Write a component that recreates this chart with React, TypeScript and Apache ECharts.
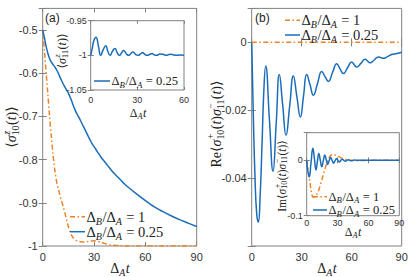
import React, { useEffect, useRef } from 'react';
import * as echarts from 'echarts';

const BLUE = '#1A6DB9';
const ORANGE = '#EE8226';
const FRAME = '#808080';
const TICK_TEXT = '#333333';
const SANS = '"Liberation Sans", Arial, sans-serif';
const SERIF = '"Liberation Serif", "DejaVu Serif", serif';
const DASHDOT = [5, 2.5, 1.5, 2.5];

// ---------- Panel (a) main: <sigma^z_10(t)> ----------
const tAOrange = [0, 1, 2, 3, 4, 5, 6, 7, 8, 9, 10, 11, 12, 13, 14, 15, 16, 17, 18, 19, 20, 22, 24, 26, 28, 30, 32, 34, 36, 38, 40, 45, 50, 60, 70, 80, 90];
const vAOrange = [-0.5, -0.548, -0.598, -0.648, -0.698, -0.745, -0.787, -0.822, -0.848, -0.866, -0.881, -0.895, -0.909, -0.924, -0.94, -0.955, -0.967, -0.976, -0.982, -0.986, -0.988, -0.99, -0.991, -0.99, -0.989, -0.988, -0.989, -0.991, -0.994, -0.996, -0.998, -0.999, -1, -1, -1, -1, -1];
const tABlue = [0, 1, 2, 3, 4, 5, 6, 7, 8, 9, 10, 11, 12, 13, 14, 15, 16, 17, 18, 19, 20, 21, 22, 23, 24, 25, 26, 27, 28, 29, 30, 31, 32, 34, 36, 38, 40, 42, 44, 46, 48, 50, 55, 60, 65, 70, 75, 80, 85, 90];
const vABlue = [-0.5, -0.518, -0.538, -0.554, -0.566, -0.574, -0.58, -0.585, -0.591, -0.599, -0.608, -0.617, -0.625, -0.632, -0.639, -0.646, -0.655, -0.665, -0.676, -0.686, -0.694, -0.701, -0.709, -0.717, -0.725, -0.733, -0.741, -0.749, -0.757, -0.764, -0.77, -0.776, -0.782, -0.794, -0.804, -0.814, -0.824, -0.833, -0.841, -0.849, -0.857, -0.864, -0.88, -0.895, -0.909, -0.92, -0.93, -0.939, -0.947, -0.955];

// ---------- Panel (a) inset: <sigma^z_11(t)> ----------
const tInsetA = [0, 1, 2, 3.4, 5, 6.4, 8, 9.7, 11, 12.4, 14, 15.6, 17, 18.5, 20, 21.2, 23, 24.5, 26, 27.2, 29, 30.5, 32, 33.3, 35, 36.5, 38, 39.5, 41, 42.5, 44.5, 46.5, 48.5, 51, 53, 55, 57.5, 60];
const vInsetA = [-1, -0.99, -0.979, -0.974, -0.987, -1, -0.992, -0.986, -0.994, -1, -0.994, -0.99, -0.996, -1, -0.996, -0.993, -0.998, -1, -0.997, -0.995, -0.999, -1, -0.998, -0.996, -0.999, -1, -0.9985, -0.9975, -0.9995, -1, -0.998, -0.9985, -1, -0.9985, -0.999, -1, -0.9995, -1];

// ---------- Panel (b) main: Re<...> ----------
const tBOrange = [0, 90];
const vBOrange = [0, 0];
const tBBlue = [0, 1, 2, 3, 4, 5, 6.2, 7.3, 8.4, 10.6, 12.8, 14.7, 16.6, 18.6, 20.6, 22.8, 25, 27.1, 29.2, 31.1, 33, 35, 37, 39.5, 42, 44, 46, 48.5, 51, 53, 55, 57.5, 60, 61.5, 63, 65.5, 68, 69.5, 71, 73.5, 76, 77.5, 79, 81.5, 84, 87, 90];
const vBBlue = [0, -0.022, -0.04, -0.0505, -0.053, -0.046, -0.03, -0.014, -0.007, -0.0225, -0.038, -0.024, -0.0095, -0.0185, -0.0274, -0.0187, -0.0099, -0.016, -0.022, -0.0158, -0.0095, -0.0125, -0.0156, -0.0121, -0.0086, -0.0101, -0.0115, -0.0089, -0.0063, -0.0078, -0.0092, -0.0075, -0.0058, -0.0066, -0.0073, -0.0062, -0.005, -0.0055, -0.006, -0.0052, -0.0043, -0.0045, -0.0047, -0.0042, -0.0036, -0.0033, -0.0029];

// ---------- Panel (b) inset: Im<...> ----------
const tInsetBOrange = [0, 1, 2, 3, 4, 5, 6, 7, 8, 9, 10, 11, 12, 13, 14, 15, 16, 17, 18, 19, 20, 21, 22, 23, 24, 25, 26, 28, 30, 33, 36, 40, 45, 50, 60, 70, 80, 90];
const vInsetBOrange = [0, -0.012, -0.025, -0.038, -0.051, -0.062, -0.066, -0.0665, -0.066, -0.064, -0.061, -0.057, -0.052, -0.046, -0.04, -0.0335, -0.027, -0.0205, -0.014, -0.008, -0.003, 0.001, 0.005, 0.008, 0.0098, 0.0105, 0.0105, 0.0095, 0.0078, 0.005, 0.003, 0.001, -0.0003, -0.0005, 0, 0, 0, 0];
const tInsetBBlue = [0, 1.2, 2.5, 4.2, 6, 7.5, 9, 10.4, 11.8, 13.2, 14.7, 16.1, 17.6, 19, 20.4, 21.8, 23.3, 24.7, 26.1, 27.5, 29, 30.4, 31.8, 33.2, 34.7, 36.1, 37.5, 39, 40.4, 42, 43.2, 45, 46.5, 50, 60, 70, 80, 90];
const vInsetBBlue = [0, -0.02, -0.03, -0.004, 0.022, 0.003, -0.0175, -0.002, 0.0126, 0.0005, -0.0115, -0.001, 0.0096, 0.001, -0.0072, -0.0008, 0.0054, 0, -0.005, -0.0008, 0.003, 0, -0.003, 0, 0.002, 0, -0.0015, 0, 0.001, 0, -0.0008, 0, 0.0005, 0, 0, 0, 0, 0];

// ---------- tick labels ----------
const xTicksMain = [0, 30, 60, 90];
const xTicksInsetA = [0, 30, 60];
const xTicksInsetB = [0, 30, 60, 90];
const yTicksA = [-1, -0.9, -0.8, -0.7, -0.6, -0.5];
const yTicksB = [-0.04, -0.02, 0];
const yTicksInsetA = [-1.05, -1, -0.95];
const yTicksInsetB = [-0.1, 0];

const legendLabels = ['1', '0.25'];

const pairs = (t: number[], v: number[]) => t.map((x, i) => [x, v[i]]);
const fmt = (v: number) => String(Math.round(v * 1000) / 1000);

let measureCtx: CanvasRenderingContext2D | null = null;
function textWidth(t: string, size: number, italic: boolean) {
  if (!measureCtx) measureCtx = document.createElement('canvas').getContext('2d');
  measureCtx!.font = `${italic ? 'italic ' : ''}${size}px ${SERIF}`;
  return measureCtx!.measureText(t).width;
}

type Atom = { t: string; it?: boolean; sup?: string; sub?: string; supIt?: boolean; subIt?: boolean };

function mathEls(atoms: Atom[], size: number, color: string) {
  let x = 0;
  const els: any[] = [];
  const mk = (text: string, xx: number, yy: number, s: number, it: boolean) => ({
    type: 'text',
    x: xx,
    y: yy,
    silent: true,
    style: { text, fontSize: s, fontFamily: SERIF, fontStyle: it ? 'italic' : 'normal', fill: color, align: 'left', verticalAlign: 'middle' },
  });
  for (const a of atoms) {
    if (a.t) {
      els.push(mk(a.t, x, 0, size, !!a.it));
      x += textWidth(a.t, size, !!a.it);
    }
    if (a.sup || a.sub) {
      const ss = size * 0.7;
      let w = 0;
      if (a.sup) {
        els.push(mk(a.sup, x + 0.5, -size * 0.36, ss, !!a.supIt));
        w = Math.max(w, textWidth(a.sup, ss, !!a.supIt) + 0.5);
      }
      if (a.sub) {
        els.push(mk(a.sub, x, size * 0.3, ss, !!a.subIt));
        w = Math.max(w, textWidth(a.sub, ss, !!a.subIt));
      }
      x += w + 0.5;
    }
  }
  return { els, width: x };
}

function mathLabel(atoms: Atom[], size: number, cx: number, cy: number, rotate: boolean, center: boolean, z: number) {
  const { els, width } = mathEls(atoms, size, '#222');
  const off = center ? -width / 2 : 0;
  els.forEach((e) => (e.x += off));
  return { type: 'group', x: cx, y: cy, rotation: rotate ? Math.PI / 2 : 0, z, children: els.map((e) => ({ ...e, z })) };
}

const sigma10z: Atom[] = [{ t: '⟨' }, { t: 'σ', it: true, sup: 'z', supIt: true, sub: '10' }, { t: '(' }, { t: 't', it: true }, { t: ')⟩' }];
const sigma11z: Atom[] = [{ t: '⟨' }, { t: 'σ', it: true, sup: 'z', supIt: true, sub: '11' }, { t: '(' }, { t: 't', it: true }, { t: ')⟩' }];
const corr = (pre: string): Atom[] => [
  { t: pre + '⟨' },
  { t: 'σ', it: true, sup: '+', sub: '10' },
  { t: '(' },
  { t: 't', it: true },
  { t: ')' },
  { t: 'σ', it: true, sup: '−', sub: '11' },
  { t: '(' },
  { t: 't', it: true },
  { t: ')⟩' },
];
const dAt: Atom[] = [{ t: 'Δ', sub: 'A', subIt: true }, { t: 't', it: true }];
const ratio = (val: string): Atom[] => [{ t: 'Δ', sub: 'B', subIt: true }, { t: '/Δ', sub: 'A', subIt: true }, { t: ' = ' + val }];

function legendEntry(x1: number, x2: number, y: number, color: string, dashed: boolean, label: string, size: number, z: number) {
  return [
    { type: 'line', z, silent: true, shape: { x1, y1: y, x2, y2: y }, style: { stroke: color, lineWidth: 1.5, lineDash: dashed ? DASHDOT : null } },
    mathLabel(ratio(label), size, x2 + 1.5, y, false, false, z),
  ];
}

function axesFor(grid: number, xr: [number, number, number], yr: [number, number, number], xl: number[], yl: number[], fs: number, xm: number, ym: number, tick: number, z: number) {
  const fmtOnly = (labels: number[]) => (v: number) => (labels.some((l) => Math.abs(l - v) < 1e-6) ? fmt(v) : '');
  const common = (r: [number, number, number]) => ({
    type: 'value',
    gridIndex: grid,
    min: r[0],
    max: r[1],
    interval: r[2],
    z,
    splitLine: { show: false },
    axisLine: { show: false },
    axisTick: { show: true, inside: true, length: tick, lineStyle: { color: FRAME, width: 1 } },
  });
  const lbl = (labels: number[], margin: number) => ({ show: true, margin, fontSize: fs, fontFamily: SANS, color: TICK_TEXT, formatter: fmtOnly(labels), showMinLabel: true, showMaxLabel: true, hideOverlap: false });
  return {
    x: [
      { ...common(xr), position: 'bottom', axisLabel: lbl(xl, xm) },
      { ...common(xr), position: 'top', axisLabel: { show: false } },
    ],
    y: [
      { ...common(yr), position: 'left', axisLabel: lbl(yl, ym) },
      { ...common(yr), position: 'right', axisLabel: { show: false } },
    ],
  };
}

function buildOption(): any {
  const a = axesFor(0, [0, 90, 30], [-1, -0.45, 0.1], xTicksMain, yTicksA, 11, 5, 5, 4, 1);
  const b = axesFor(1, [0, 90, 30], [-0.06, 0.01, 0.02], xTicksMain, yTicksB, 11, 5, 5, 4, 1);
  const ia = axesFor(2, [0, 60, 30], [-1.05, -0.95, 0.05], xTicksInsetA, yTicksInsetA, 9, 5, 4, 3, 11);
  const ib = axesFor(3, [0, 90, 30], [-0.1, 0.05, 0.1], xTicksInsetB, yTicksInsetB, 9, 3, 4, 3, 11);

  const line = (name: string, xi: number, data: number[][], color: string, dashed: boolean, z: number, smooth: number) => ({
    type: 'line',
    name,
    xAxisIndex: xi,
    yAxisIndex: xi,
    data,
    z,
    showSymbol: false,
    symbol: 'none',
    smooth,
    clip: true,
    lineStyle: { color, width: 1.5, type: dashed ? DASHDOT : 'solid' },
  });

  const gridBox = { show: true, borderColor: FRAME, borderWidth: 1, backgroundColor: '#fff' };

  const graphics: any[] = [
    { type: 'text', x: 45, y: 17.5, z: 5, silent: true, style: { text: '(a)', fontSize: 12, fontFamily: SANS, fill: '#222', align: 'left', verticalAlign: 'middle' } },
    { type: 'text', x: 255, y: 17.5, z: 5, silent: true, style: { text: '(b)', fontSize: 12, fontFamily: SANS, fill: '#222', align: 'left', verticalAlign: 'middle' } },
    mathLabel(sigma10z, 14, 11.5, 127, true, true, 5),
    mathLabel(corr('Re'), 14, 216, 124, true, true, 5),
    mathLabel(sigma11z, 12, 62, 51, true, true, 20),
    mathLabel(corr('Im'), 11.5, 281.5, 176, true, true, 20),
    mathLabel(dAt, 14, 120, 268, false, true, 5),
    mathLabel(dAt, 14, 327, 268, false, true, 5),
    mathLabel(dAt, 12, 138, 113, false, true, 20),
    mathLabel(dAt, 12, 353, 232, false, true, 20),
    ...legendEntry(70, 85, 216.7, ORANGE, true, legendLabels[0], 14.5, 5),
    ...legendEntry(70, 85, 231.7, BLUE, false, legendLabels[1], 14.5, 5),
    ...legendEntry(285, 300, 20.3, ORANGE, true, legendLabels[0], 14.5, 5),
    ...legendEntry(285, 300, 35, BLUE, false, legendLabels[1], 14.5, 5),
    ...legendEntry(94, 110, 81, BLUE, false, legendLabels[1], 12.5, 20),
    ...legendEntry(313, 327, 196.7, ORANGE, true, legendLabels[0], 12.5, 20),
    ...legendEntry(313, 327, 210, BLUE, false, legendLabels[1], 12.5, 20),
  ];

  return {
    animation: false,
    backgroundColor: '#fff',
    grid: [
      { ...gridBox, left: 42.7, top: 8.4, width: 154, height: 237.6, z: 0 },
      { ...gridBox, left: 251.7, top: 8.4, width: 150, height: 237.6, z: 0 },
      { ...gridBox, left: 90.7, top: 20.7, width: 93.3, height: 69.3, z: 10 },
      { ...gridBox, left: 306.7, top: 132.7, width: 92.6, height: 83, z: 10 },
    ],
    xAxis: [...a.x, ...b.x, ...ia.x, ...ib.x],
    yAxis: [...a.y, ...b.y, ...ia.y, ...ib.y],
    series: [
      line('a-orange', 0, pairs(tAOrange, vAOrange), ORANGE, true, 2, 0.3),
      line('a-blue', 0, pairs(tABlue, vABlue), BLUE, false, 3, 0.3),
      line('b-blue', 2, pairs(tBBlue, vBBlue), BLUE, false, 2, 0.5),
      line('b-orange', 2, pairs(tBOrange, vBOrange), ORANGE, true, 3, 0),
      line('ia-blue', 4, pairs(tInsetA, vInsetA), BLUE, false, 12, 0.5),
      line('ib-orange', 6, pairs(tInsetBOrange, vInsetBOrange), ORANGE, true, 12, 0.3),
      line('ib-blue', 6, pairs(tInsetBBlue, vInsetBBlue), BLUE, false, 13, 0.5),
    ],
    graphic: graphics,
  };
}

export default function App() {
  const ref = useRef<HTMLDivElement>(null);
  useEffect(() => {
    document.body.style.margin = '0';
    const chart = echarts.init(ref.current!, null, { renderer: 'svg', width: 415, height: 277 });
    chart.setOption(buildOption());
    return () => chart.dispose();
  }, []);
  return <div ref={ref} style={{ width: 415, height: 277 }} />;
}
